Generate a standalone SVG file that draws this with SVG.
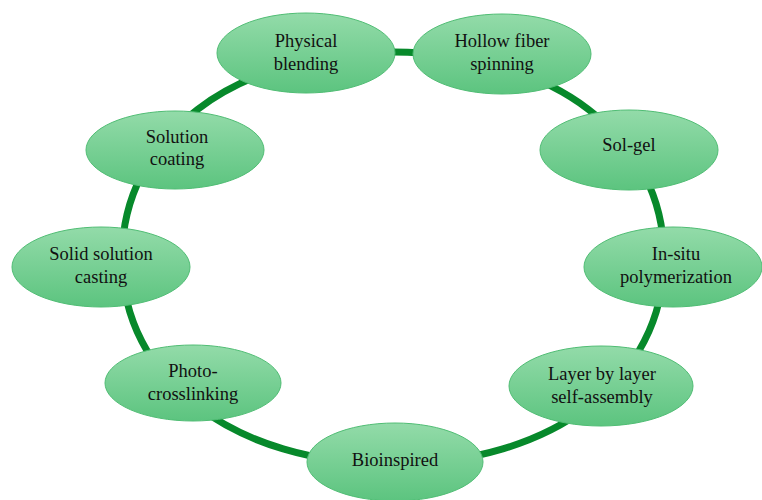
<svg xmlns="http://www.w3.org/2000/svg" width="762" height="500" viewBox="0 0 762 500">
<defs>
<linearGradient id="g" x1="0" y1="0" x2="0" y2="1">
<stop offset="0" stop-color="#93dba9"/>
<stop offset="1" stop-color="#5cc47f"/>
</linearGradient>
<style>
.n ellipse{fill:url(#g);stroke:#50bd74;stroke-width:1}
.n text{font-family:'Liberation Serif',serif;font-size:18.5px;fill:#111;text-anchor:middle}
.ring{fill:none;stroke:#07892b;stroke-width:7}
</style>
</defs>
<rect width="762" height="500" fill="#fff"/>
<g id="connectors">
<path class="ring" d="M664,258 C664,379.5 553,464 393,464 C233,464 122,379.5 122,258 C122,136.5 233,52 393,52 C553,52 664,136.5 664,258 Z"/>
</g>
<g id="physical-blending" class="n"><ellipse cx="306" cy="53" rx="89" ry="40"/><text x="306" y="47">Physical</text><text x="306" y="70">blending</text></g>
<g id="hollow-fiber" class="n"><ellipse cx="502" cy="54" rx="89" ry="40"/><text x="502" y="47">Hollow fiber</text><text x="502" y="70">spinning</text></g>
<g id="sol-gel" class="n"><ellipse cx="629" cy="150" rx="89" ry="40"/><text x="629" y="151">Sol-gel</text></g>
<g id="in-situ" class="n"><ellipse cx="673" cy="267" rx="89" ry="40"/><text x="676" y="260">In-situ</text><text x="676" y="283">polymerization</text></g>
<g id="layer-by-layer" class="n"><ellipse cx="601" cy="386" rx="92" ry="40"/><text x="602" y="380">Layer by layer</text><text x="602" y="403">self-assembly</text></g>
<g id="bioinspired" class="n"><ellipse cx="395" cy="462" rx="88" ry="39"/><text x="395" y="466">Bioinspired</text></g>
<g id="photo-crosslinking" class="n"><ellipse cx="193" cy="383" rx="88" ry="38"/><text x="193" y="377">Photo-</text><text x="193" y="400">crosslinking</text></g>
<g id="solid-solution-casting" class="n"><ellipse cx="101" cy="267" rx="89" ry="40"/><text x="101" y="260">Solid solution</text><text x="101" y="283">casting</text></g>
<g id="solution-coating" class="n"><ellipse cx="175" cy="150" rx="89" ry="39"/><text x="177" y="143">Solution</text><text x="177" y="165">coating</text></g>
</svg>
